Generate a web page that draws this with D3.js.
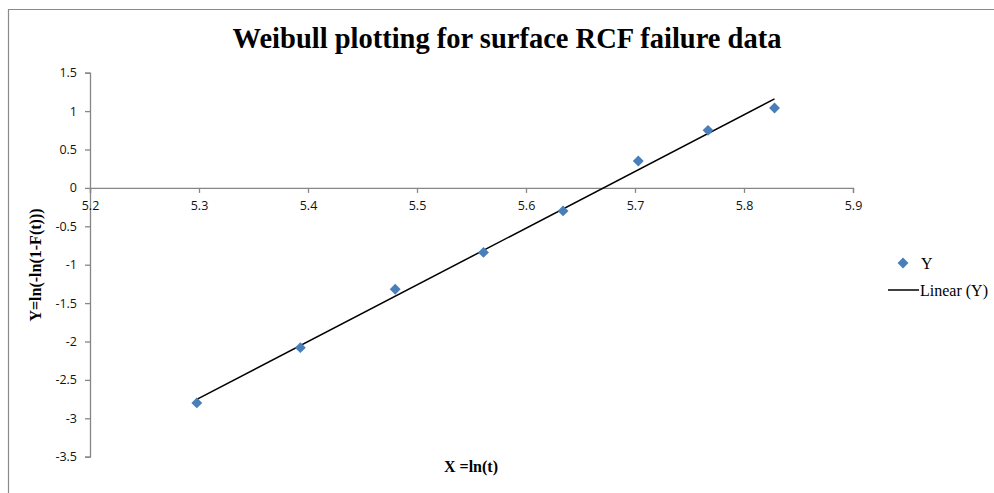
<!DOCTYPE html>
<html>
<head>
<meta charset="utf-8">
<script src="https://cdn.jsdelivr.net/npm/d3@7"></script>
<style>
  html, body { margin: 0; padding: 0; background: #fff; }
  svg { display: block; }
</style>
</head>
<body>
<svg id="chart" width="994" height="493"></svg>
<script>
// Weibull plot data: X = ln(t), Y = ln(-ln(1-F(t)))
const xValues = [5.298, 5.393, 5.480, 5.561, 5.634, 5.703, 5.767, 5.828];
const yValues = [-2.80, -2.08, -1.32, -0.84, -0.30, 0.35, 0.75, 1.04];
const xTicks = [5.2, 5.3, 5.4, 5.5, 5.6, 5.7, 5.8, 5.9];
const yTicks = [1.5, 1, 0.5, 0, -0.5, -1, -1.5, -2, -2.5, -3, -3.5];
const titleText = "Weibull plotting for surface RCF failure data";
const xTitle = "X =ln(t)";
const yTitle = "Y=ln(-ln(1-F(t)))";
const legendLabels = ["Y", "Linear (Y)"];

const svg = d3.select("#chart");
const W = 994, H = 493;

// outer chart frame (extends past the right and bottom edges)
svg.append("path")
  .attr("d", `M8.5,${H + 2} L8.5,9.5 L${W + 2},9.5`)
  .attr("fill", "none").attr("stroke", "#8a8a8a").attr("stroke-width", 1.2);

const x = d3.scaleLinear().domain([5.2, 5.9]).range([90, 853]);
const y = d3.scaleLinear().domain([-3.5, 1.5]).range([456.7, 72.7]);

const axisColor = "#868686";
const tickFont = "'Open Sans', 'Noto Sans', sans-serif";

// y axis at x = 5.2
const yAxis = svg.append("g")
  .attr("transform", `translate(${x(5.2)},0)`)
  .call(d3.axisLeft(y).tickValues(yTicks).tickSize(5).tickPadding(8)
    .tickFormat(d => String(d)));
yAxis.select(".domain").attr("stroke", axisColor).attr("stroke-width", 1.3);
yAxis.selectAll(".tick line").attr("stroke", axisColor).attr("stroke-width", 1.3);
yAxis.selectAll(".tick text")
  .attr("font-family", tickFont).attr("font-size", 12.5).attr("fill", "#111");

// x axis crossing at y = 0
const xAxis = svg.append("g")
  .attr("transform", `translate(0,${y(0)})`)
  .call(d3.axisBottom(x).tickValues(xTicks).tickSize(5).tickPadding(8)
    .tickFormat(d3.format(".1f")));
xAxis.select(".domain").attr("stroke", axisColor).attr("stroke-width", 1.3);
xAxis.selectAll(".tick line").attr("stroke", axisColor).attr("stroke-width", 1.3);
xAxis.selectAll(".tick text")
  .attr("font-family", tickFont).attr("font-size", 12.5).attr("fill", "#111");

// least-squares trend line over the data range
const n = xValues.length;
const mx = d3.mean(xValues), my = d3.mean(yValues);
let sxy = 0, sxx = 0;
for (let i = 0; i < n; i++) {
  sxy += (xValues[i] - mx) * (yValues[i] - my);
  sxx += (xValues[i] - mx) ** 2;
}
const slope = sxy / sxx, intercept = my - slope * mx;
const xExt = d3.extent(xValues);
const fitPts = xExt.map(v => [v, intercept + slope * v]);

svg.append("path")
  .datum(fitPts)
  .attr("d", d3.line().x(d => x(d[0])).y(d => y(d[1])))
  .attr("fill", "none").attr("stroke", "#000").attr("stroke-width", 1.5);

// data markers
const diamond = d3.symbol().type(d3.symbolDiamond2).size(75);
svg.append("g").selectAll("path")
  .data(xValues.map((v, i) => [v, yValues[i]]))
  .join("path")
  .attr("d", diamond)
  .attr("transform", d => `translate(${x(d[0])},${y(d[1])})`)
  .attr("fill", "#4a7ebb");

// title and axis titles
const serif = "'Liberation Serif', 'Times New Roman', serif";
svg.append("text")
  .attr("x", 507).attr("y", 48)
  .attr("text-anchor", "middle")
  .attr("font-family", serif).attr("font-weight", "bold").attr("font-size", 28.5)
  .attr("fill", "#000")
  .text(titleText);

svg.append("text")
  .attr("x", 471).attr("y", 472)
  .attr("text-anchor", "middle")
  .attr("font-family", serif).attr("font-weight", "bold").attr("font-size", 16)
  .text(xTitle);

svg.append("text")
  .attr("transform", "translate(41,265) rotate(-90)")
  .attr("text-anchor", "middle")
  .attr("font-family", serif).attr("font-weight", "bold").attr("font-size", 16)
  .text(yTitle);

// legend
const lg = svg.append("g");
lg.append("path")
  .attr("d", diamond)
  .attr("transform", "translate(903,263)")
  .attr("fill", "#4a7ebb");
lg.append("text")
  .attr("x", 921).attr("y", 269)
  .attr("font-family", serif).attr("font-size", 16)
  .text(legendLabels[0]);
lg.append("line")
  .attr("x1", 888).attr("x2", 919).attr("y1", 290).attr("y2", 290)
  .attr("stroke", "#000").attr("stroke-width", 1.5);
lg.append("text")
  .attr("x", 920).attr("y", 295.5)
  .attr("font-family", serif).attr("font-size", 16)
  .text(legendLabels[1]);
</script>
</body>
</html>
